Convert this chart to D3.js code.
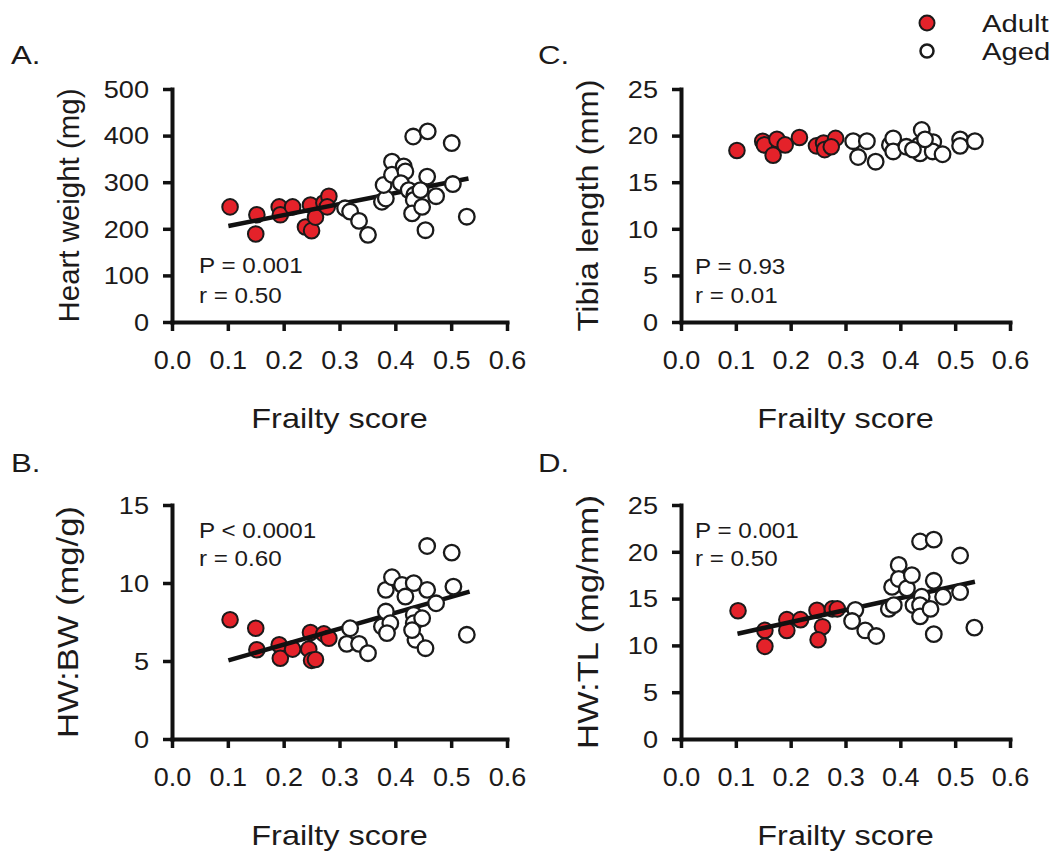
<!DOCTYPE html>
<html>
<head>
<meta charset="utf-8">
<script src="https://cdn.jsdelivr.net/npm/d3@7"></script>
<style>
  body { margin: 0; background: #fff; }
  text { font-family: 'Liberation Sans', Arial, sans-serif; fill: #1c1a1a; }
</style>
</head>
<body>
<div id="container"></div>
<script>
var width = 1060,
    height = 854,
    FONT = "'Liberation Sans', Arial, sans-serif",
    RED = '#e4222a';

// shared x axis
var frailtyTicks = [0, 0.1, 0.2, 0.3, 0.4, 0.5, 0.6];

// A. heart weight (mg)
var adultFrailtyA = [0.104, 0.152, 0.150, 0.192, 0.194, 0.216, 0.248, 0.239, 0.250, 0.257, 0.272, 0.281, 0.278];
var adultHeartWeight = [247, 230, 189, 247, 230, 247, 251, 204, 196, 225, 256, 270, 247];
var agedFrailtyA = [0.310, 0.319, 0.335, 0.351, 0.376, 0.383, 0.379, 0.394, 0.394, 0.415, 0.418, 0.410, 0.424,
    0.432, 0.458, 0.457, 0.434, 0.433, 0.430, 0.448, 0.454, 0.473, 0.501, 0.503, 0.528, 0.445];
var agedHeartWeight = [244, 237, 217, 187, 258, 265, 294, 344, 316, 334, 323, 298, 283,
    398, 409, 312, 273, 262, 233, 247, 197, 270, 384, 296, 226, 283];
var fitFrailtyA = [0.101, 0.531], fitHeartWeight = [206, 308];

// B. HW:BW (mg/g)
var adultFrailtyB = [0.104, 0.150, 0.152, 0.192, 0.194, 0.216, 0.248, 0.245, 0.250, 0.272, 0.281, 0.257];
var adultHWBW = [7.64, 7.10, 5.72, 6.04, 5.18, 5.76, 6.83, 5.76, 5.04, 6.74, 6.46, 5.10];
var agedFrailtyB = [0.319, 0.313, 0.335, 0.351, 0.376, 0.383, 0.391, 0.385, 0.383, 0.394, 0.412, 0.433, 0.457,
    0.418, 0.433, 0.433, 0.436, 0.454, 0.448, 0.473, 0.457, 0.501, 0.504, 0.528, 0.430];
var agedHWBW = [7.10, 6.10, 6.10, 5.50, 7.21, 8.17, 7.42, 6.79, 9.56, 10.37, 9.88, 9.99, 9.56,
    9.13, 7.96, 7.42, 6.36, 5.82, 7.74, 8.70, 12.37, 11.95, 9.77, 6.68, 6.98];
var fitFrailtyB = [0.101, 0.533], fitHWBW = [5.04, 9.45];

// C. tibia length (mm)
var adultFrailtyC = [0.102, 0.149, 0.152, 0.168, 0.175, 0.190, 0.216, 0.247, 0.260, 0.262, 0.282, 0.274];
var adultTibia = [18.4, 19.4, 19.0, 17.9, 19.6, 19.0, 19.8, 18.9, 19.2, 18.5, 19.7, 18.8];
var agedFrailtyC = [0.314, 0.339, 0.323, 0.355, 0.381, 0.387, 0.387, 0.411, 0.439, 0.435, 0.436, 0.460,
    0.459, 0.477, 0.509, 0.509, 0.536, 0.423, 0.445];
var agedTibia = [19.4, 19.4, 17.7, 17.2, 19.0, 19.7, 18.3, 18.8, 20.6, 19.0, 18.1, 19.3,
    18.3, 18.0, 19.6, 18.9, 19.4, 18.5, 19.6];

// D. HW:TL (mg/mm)
var adultFrailtyD = [0.104, 0.153, 0.153, 0.193, 0.193, 0.218, 0.248, 0.258, 0.250, 0.276, 0.285];
var adultHWTL = [13.7, 11.6, 9.9, 12.75, 11.6, 12.75, 13.75, 12.0, 10.6, 13.9, 13.9];
var agedFrailtyD = [0.318, 0.312, 0.336, 0.356, 0.379, 0.388, 0.385, 0.397, 0.397, 0.412, 0.421, 0.424,
    0.436, 0.461, 0.461, 0.439, 0.436, 0.436, 0.455, 0.461, 0.478, 0.509, 0.509, 0.535];
var agedHWTL = [13.8, 12.6, 11.6, 11.0, 13.9, 14.3, 16.25, 18.6, 17.1, 16.1, 17.5, 14.3,
    21.1, 21.3, 16.9, 15.2, 14.3, 13.1, 13.9, 11.2, 15.2, 19.6, 15.7, 11.9];
var fitFrailtyD = [0.103, 0.536], fitHWTL = [11.25, 16.8];

function zip(a, b) { return a.map(function(d, i) { return [d, b[i]]; }); }

var panels = [
  { letter: 'A.', title: 'Heart weight (mg)', yMax: 500, yTicks: [0, 100, 200, 300, 400, 500],
    adult: zip(adultFrailtyA, adultHeartWeight), aged: zip(agedFrailtyA, agedHeartWeight),
    fit: zip(fitFrailtyA, fitHeartWeight), stats: ['P = 0.001', 'r = 0.50'],
    x0: 172, x1: 507, y0: 322, y1: 89, titleX: 79, titleLen: 234, lx: 11, ly: 64, sx: 199, sy: 273, sGap: 30 },
  { letter: 'C.', title: 'Tibia length (mm)', yMax: 25, yTicks: [0, 5, 10, 15, 20, 25],
    adult: zip(adultFrailtyC, adultTibia), aged: zip(agedFrailtyC, agedTibia),
    fit: null, stats: ['P = 0.93', 'r = 0.01'],
    x0: 681, x1: 1010, y0: 322, y1: 89, titleX: 598, titleLen: 252, lx: 538, ly: 64, sx: 695, sy: 274, sGap: 29 },
  { letter: 'B.', title: 'HW:BW (mg/g)', yMax: 15, yTicks: [0, 5, 10, 15],
    adult: zip(adultFrailtyB, adultHWBW), aged: zip(agedFrailtyB, agedHWBW),
    fit: zip(fitFrailtyB, fitHWBW), stats: ['P < 0.0001', 'r = 0.60'],
    x0: 172, x1: 507, y0: 739, y1: 505, titleX: 78, titleLen: 232, lx: 11, ly: 472, sx: 199, sy: 538, sGap: 28 },
  { letter: 'D.', title: 'HW:TL (mg/mm)', yMax: 25, yTicks: [0, 5, 10, 15, 20, 25],
    adult: zip(adultFrailtyD, adultHWTL), aged: zip(agedFrailtyD, agedHWTL),
    fit: zip(fitFrailtyD, fitHWTL), stats: ['P = 0.001', 'r = 0.50'],
    x0: 681, x1: 1010, y0: 739, y1: 505, titleX: 598, titleLen: 254, lx: 538, ly: 472, sx: 695, sy: 538, sGap: 28 }
];

var svg = d3.select('#container')
    .append('svg')
    .attr('width', width)
    .attr('height', height);

function drawPanel(p) {
  var x = d3.scaleLinear().domain([0, 0.6]).range([p.x0, p.x1]);
  var y = d3.scaleLinear().domain([0, p.yMax]).range([p.y0, p.y1]);
  var g = svg.append('g');

  var gx = g.append('g')
      .attr('transform', 'translate(0,' + p.y0 + ')')
      .call(d3.axisBottom(x).tickValues(frailtyTicks).tickFormat(d3.format('.1f'))
        .tickSize(9).tickSizeOuter(0).tickPadding(20));
  var gy = g.append('g')
      .attr('transform', 'translate(' + p.x0 + ',0)')
      .call(d3.axisLeft(y).tickValues(p.yTicks).tickSize(9).tickSizeOuter(0));

  [gx, gy].forEach(function(a) {
    a.attr('font-family', FONT);
    a.select('.domain').attr('stroke', '#111').attr('stroke-width', 4).attr('stroke-linecap', 'square');
    a.selectAll('.tick line').attr('stroke', '#111').attr('stroke-width', 3.5);
    a.selectAll('.tick text').attr('fill', '#1c1a1a');
  });
  gx.selectAll('.tick text')
      .attr('font-size', 25)
      .attr('transform', 'scale(1.08,1)');
  gy.selectAll('.tick text')
      .attr('font-size', 23)
      .attr('x', 0)
      .attr('dy', '0.36em')
      .attr('transform', 'translate(-23,0) scale(1.18,1)');

  // y title
  g.append('text')
      .attr('transform', 'translate(' + p.titleX + ',' + ((p.y0 + p.y1) / 2) + ') rotate(-90)')
      .attr('text-anchor', 'middle')
      .attr('font-size', 30)
      .attr('textLength', p.titleLen)
      .attr('lengthAdjust', 'spacingAndGlyphs')
      .text(p.title);

  // x title
  g.append('text')
      .attr('transform', 'translate(' + ((p.x0 + p.x1) / 2) + ',' + (p.y0 + 106) + ') scale(1.2,1)')
      .attr('text-anchor', 'middle')
      .attr('font-size', 27)
      .text('Frailty score');

  // panel letter
  g.append('text')
      .attr('transform', 'translate(' + p.lx + ',' + p.ly + ') scale(1.2,1)')
      .attr('font-size', 26)
      .text(p.letter);

  // stats
  p.stats.forEach(function(s, i) {
    g.append('text')
        .attr('transform', 'translate(' + p.sx + ',' + (p.sy + i * p.sGap) + ') scale(1.1,1)')
        .attr('font-size', 22)
        .text(s);
  });

  g.append('g').selectAll('circle')
      .data(p.adult)
      .enter().append('circle')
      .attr('cx', function(d) { return x(d[0]); })
      .attr('cy', function(d) { return y(d[1]); })
      .attr('r', 7.8)
      .attr('fill', RED)
      .attr('stroke', '#1a1a1a')
      .attr('stroke-width', 2);

  if (p.fit) {
    var line = d3.line()
        .x(function(d) { return x(d[0]); })
        .y(function(d) { return y(d[1]); });
    g.append('path')
        .attr('d', line(p.fit))
        .attr('fill', 'none')
        .attr('stroke', '#111')
        .attr('stroke-width', 4.5);
  }

  g.append('g').selectAll('circle')
      .data(p.aged)
      .enter().append('circle')
      .attr('cx', function(d) { return x(d[0]); })
      .attr('cy', function(d) { return y(d[1]); })
      .attr('r', 7.8)
      .attr('fill', '#fff')
      .attr('stroke', '#1a1a1a')
      .attr('stroke-width', 2.3);
}

panels.forEach(drawPanel);

// legend
var legendGroups = ['Adult', 'Aged'],
    legendFill = [RED, '#fff'];
var legend = svg.append('g');
legendGroups.forEach(function(name, i) {
  legend.append('circle')
      .attr('cx', 927)
      .attr('cy', 23 + i * 28)
      .attr('r', i === 0 ? 7.5 : 6.5)
      .attr('fill', legendFill[i])
      .attr('stroke', '#1a1a1a')
      .attr('stroke-width', i === 0 ? 2 : 2.5);
  legend.append('text')
      .attr('transform', 'translate(982,' + (32 + i * 28) + ') scale(1.22,1)')
      .attr('font-size', 24)
      .text(name);
});
</script>
</body>
</html>
